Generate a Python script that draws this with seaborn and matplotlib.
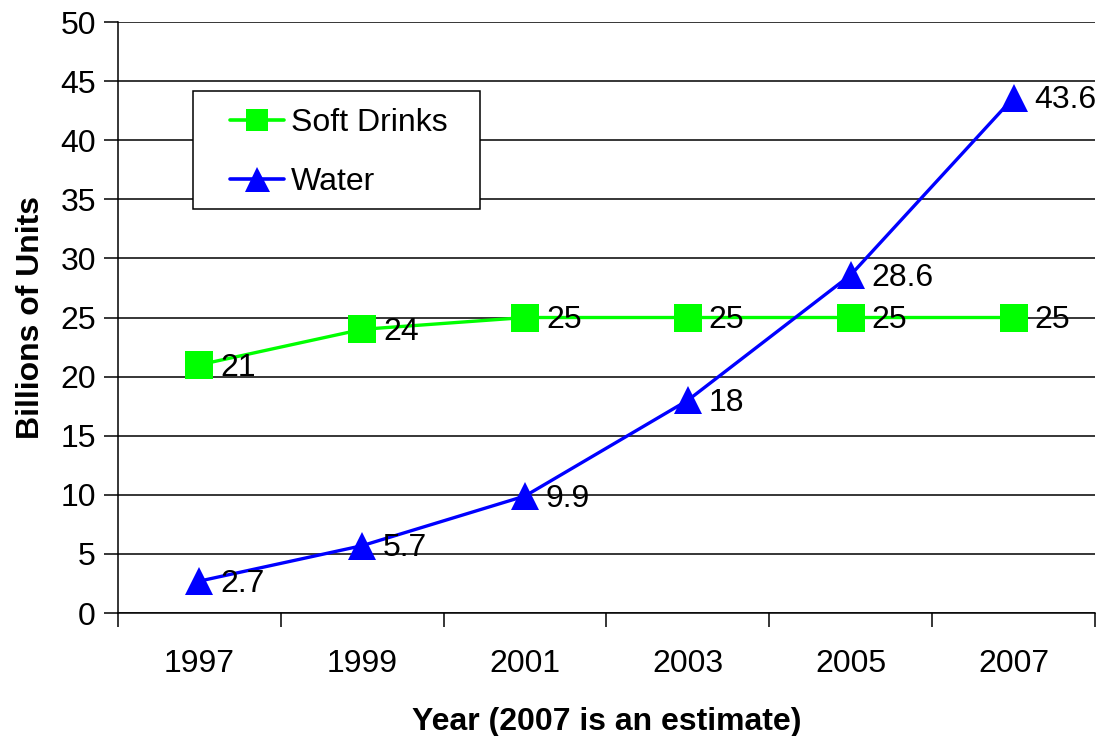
import numpy as np
import pandas as pd
import seaborn as sns
import matplotlib
matplotlib.use('Agg')
import matplotlib.pyplot as plt
from matplotlib.lines import Line2D
from matplotlib.patches import Rectangle

years = ['1997', '1999', '2001', '2003', '2005', '2007']
soft_drinks = [21, 24, 25, 25, 25, 25]
water = [2.7, 5.7, 9.9, 18, 28.6, 43.6]
soft_labels = ['21', '24', '25', '25', '25', '25']
water_labels = ['2.7', '5.7', '9.9', '18', '28.6', '43.6']

GREEN = '#00ff00'
BLUE = '#0000ff'

sns.set_theme(style='white')
plt.rcParams['font.family'] = ['Liberation Sans', 'DejaVu Sans']
plt.rcParams['text.color'] = 'black'
plt.rcParams['axes.labelcolor'] = 'black'
plt.rcParams['xtick.color'] = 'black'
plt.rcParams['ytick.color'] = 'black'

df = pd.DataFrame({
    'pos': list(range(len(years))) * 2,
    'value': soft_drinks + water,
    'series': ['Soft Drinks'] * len(years) + ['Water'] * len(years),
})

fig = plt.figure(figsize=(11.06, 7.36), dpi=100)
ax = fig.add_axes([0.1067, 0.1671, 0.8833, 0.8030])

# horizontal gridlines
for v in range(0, 51, 5):
    ax.axhline(v, color='black', lw=1.1, zorder=0)

sns.lineplot(data=df, x='pos', y='value', hue='series', style='series',
             palette={'Soft Drinks': GREEN, 'Water': BLUE},
             markers={'Soft Drinks': 's', 'Water': '^'}, dashes=False,
             markersize=20, linewidth=2.4, markeredgewidth=0,
             legend=False, ax=ax, zorder=3)

# data labels to the right of each point
for i in range(len(years)):
    ax.annotate(soft_labels[i], (i, soft_drinks[i]), xytext=(15, -2),
                textcoords='offset points', ha='left', va='center',
                fontsize=23, color='black', zorder=4)
    ax.annotate(water_labels[i], (i, water[i]), xytext=(15, -2),
                textcoords='offset points', ha='left', va='center',
                fontsize=23, color='black', zorder=4)

ax.set_xlim(-0.5, len(years) - 0.5)
ax.set_ylim(0, 50)
ax.set_yticks(range(0, 51, 5))
ax.set_xticks(range(len(years)))
ax.set_xticklabels(years)
ax.set_xticks(np.arange(-0.5, len(years), 1), minor=True)
ax.tick_params(axis='x', which='major', length=0, pad=26, labelsize=23)
ax.tick_params(axis='x', which='minor', length=10, width=1.1, direction='out',
               bottom=True, color='black')
ax.tick_params(axis='y', which='major', length=10, width=1.1, direction='out',
               left=True, pad=6, labelsize=23, color='black')

for side in ['top', 'right']:
    ax.spines[side].set_visible(False)
for side in ['left', 'bottom']:
    ax.spines[side].set_color('black')
    ax.spines[side].set_linewidth(1.1)

ax.set_xlabel('Year (2007 is an estimate)', fontsize=23, fontweight='bold', labelpad=20)
ax.set_ylabel('Billions of Units', fontsize=23, fontweight='bold', labelpad=10)

# legend box drawn separately so its padding matches the original
fig.patches.append(Rectangle((0.1745, 0.716), 0.2595, 0.1603, transform=fig.transFigure,
                             facecolor='white', edgecolor='black', lw=1.1, zorder=5))

handles = [
    Line2D([0], [0], color=GREEN, marker='s', markersize=16, lw=2.6, markeredgewidth=0),
    Line2D([0], [0], color=BLUE, marker='^', markersize=18, lw=2.6, markeredgewidth=0),
]
leg = fig.legend(handles, ['Soft Drinks', 'Water'], loc='upper left',
                 bbox_to_anchor=(0.208, 0.853), fontsize=23, frameon=False,
                 handlelength=1.7, handletextpad=0.2, borderpad=0,
                 labelspacing=0.9, borderaxespad=0)
leg.set_zorder(6)
for t in leg.get_texts():
    t.set_color('black')

fig.savefig('out.png', dpi=100)
